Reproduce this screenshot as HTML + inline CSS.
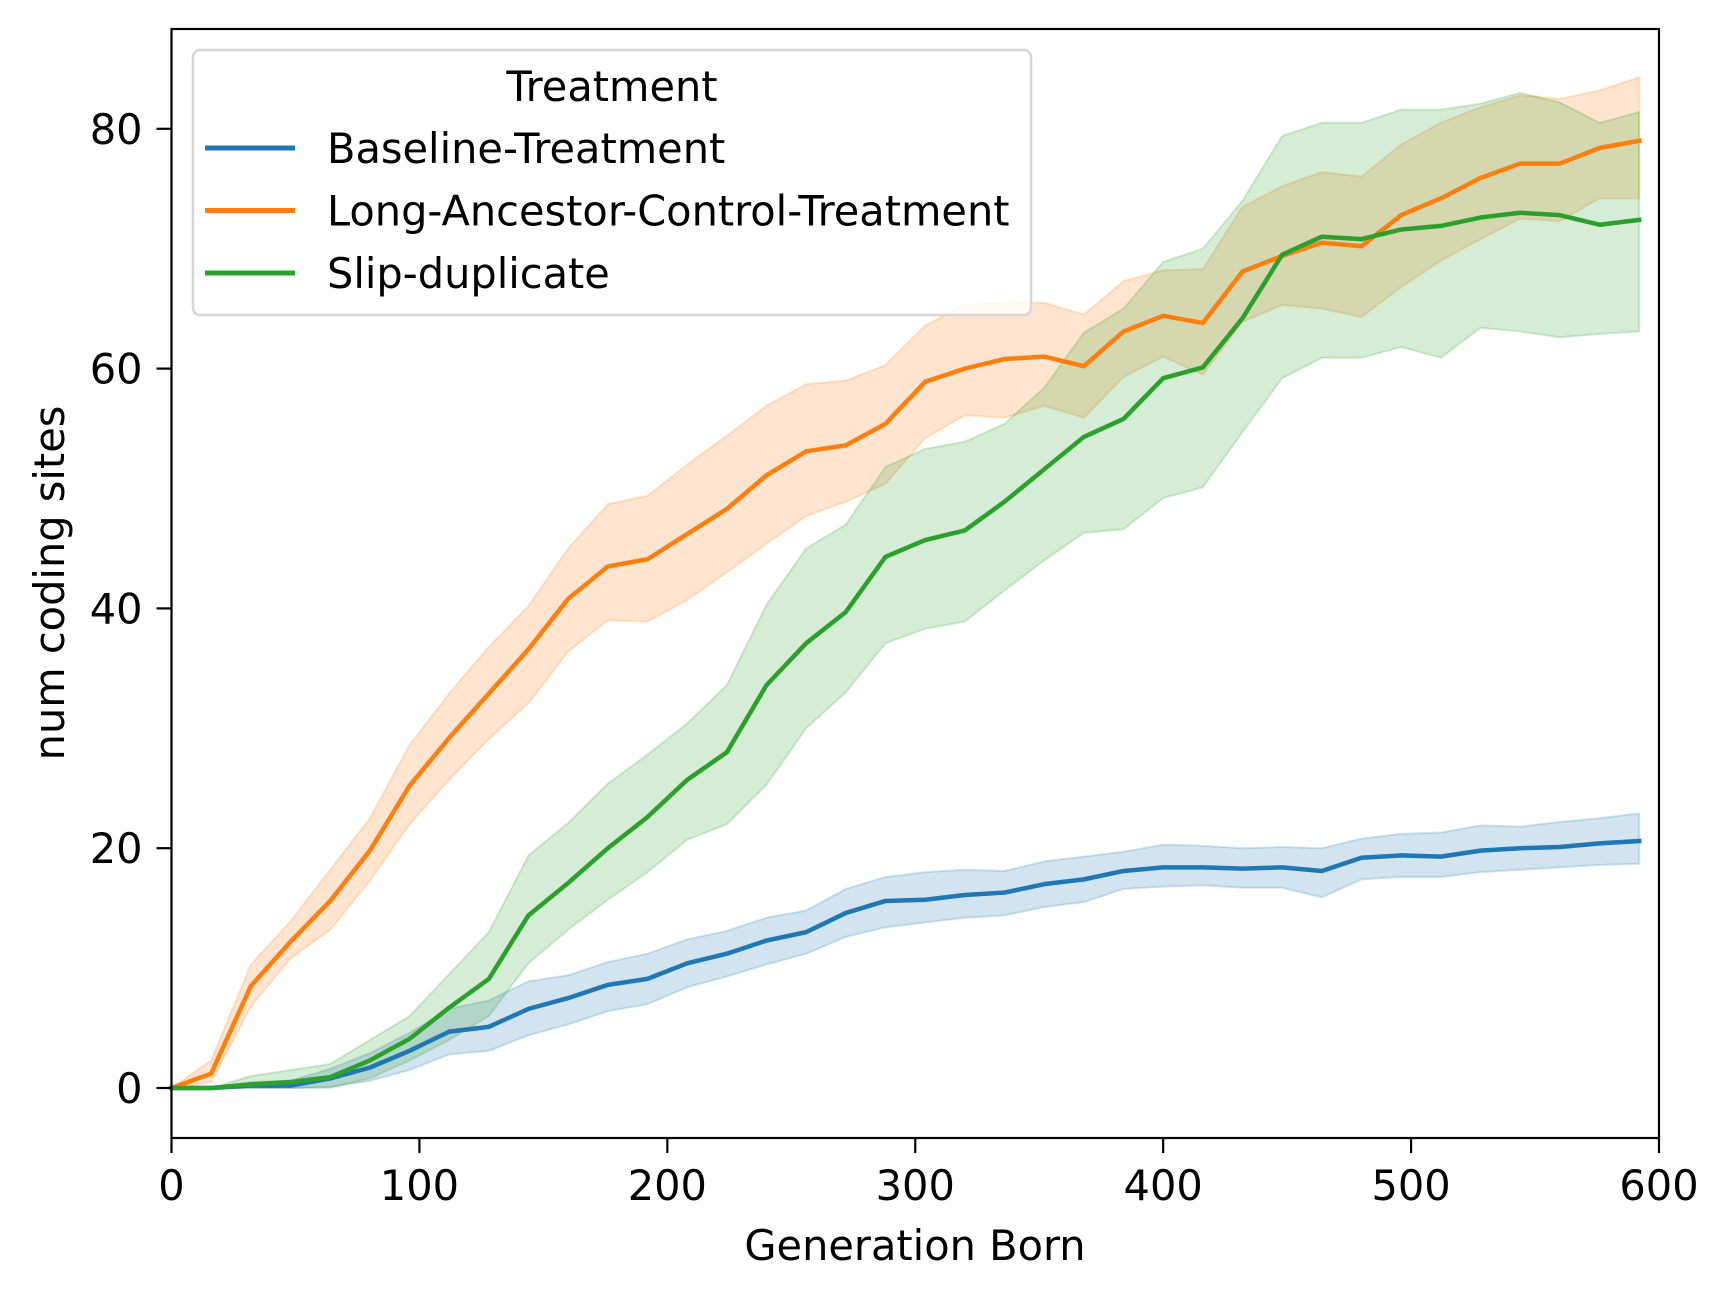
<!DOCTYPE html>
<html><head><meta charset="utf-8"><style>
body{margin:0;background:#fff}
svg{display:block;font-family:"DejaVu Sans","Liberation Sans",sans-serif}
</style></head><body>
<svg id="chart" width="1728" height="1298" viewBox="0 0 1728 1298">
<rect width="1728" height="1298" fill="#fff"/>
<g id="bands"></g><g id="lines"></g>
<g id="axes"></g>
</svg>
<script>
const gens = [0,16,32,48,64,80,96,112,128,144,160,176,192,208,224,240,256,272,288,304,320,336,352,368,384,400,416,432,448,464,480,496,512,528,544,560,576,592];
const orangeMean = [0,1.2,8.5,12.2,15.6,19.8,25.2,29.2,32.9,36.6,40.8,43.5,44.1,46.2,48.3,51.1,53.1,53.6,55.4,58.9,60.0,60.8,61.0,60.2,63.1,64.4,63.8,68.1,69.4,70.5,70.2,72.8,74.2,75.9,77.1,77.1,78.4,79.0];
const orangeLow = [0,0.5,6.8,10.8,13.2,17.3,22.0,25.7,29.1,32.1,36.4,39.0,38.9,40.7,43.0,45.4,47.7,48.9,50.4,54.2,56.1,55.9,56.9,55.9,59.3,61.0,59.5,63.9,65.3,65.0,64.3,66.8,69.0,70.8,72.5,72.3,74.2,74.2];
const orangeHigh = [0,2.3,10.3,13.9,18.2,22.5,28.6,32.9,36.8,40.2,45.0,48.7,49.4,52.0,54.4,56.9,58.7,59.0,60.3,63.6,65.3,65.5,65.5,64.5,67.3,68.2,68.3,73.5,75.2,76.4,76.0,78.7,80.5,81.8,82.8,82.5,83.2,84.3];
const greenMean = [0,0,0.3,0.5,0.9,2.3,4.1,6.7,9.1,14.4,17.1,20.0,22.6,25.7,28.0,33.6,37.1,39.7,44.3,45.7,46.5,48.9,51.6,54.3,55.8,59.2,60.1,64.2,69.5,71.0,70.8,71.6,71.9,72.6,73.0,72.8,72.0,72.4];
const greenLow = [0,0,0,0,0,0.8,2.3,4.0,6.0,10.4,13.2,15.7,18.0,20.7,22.0,25.3,30.0,33.0,37.1,38.3,38.9,41.5,44.0,46.3,46.6,49.2,50.1,54.7,59.2,60.9,60.9,61.8,60.9,63.4,63.1,62.6,62.9,63.1];
const greenHigh = [0,0,1.0,1.5,2.0,4.0,6.0,9.5,13.0,19.4,22.1,25.4,27.8,30.4,33.6,40.3,45.0,47.0,51.8,53.3,53.9,55.4,58.4,63.0,65.0,68.9,70.0,74.0,79.4,80.5,80.5,81.6,81.6,82.1,83.0,82.2,80.5,81.4];
const blueMean = [0,0,0.2,0.2,0.8,1.7,3.1,4.7,5.1,6.6,7.5,8.6,9.1,10.4,11.2,12.3,13.0,14.6,15.6,15.7,16.1,16.3,17.0,17.4,18.1,18.4,18.4,18.3,18.4,18.1,19.2,19.4,19.3,19.8,20.0,20.1,20.4,20.6];
const blueLow = [0,0,0,0,0.1,0.6,1.5,2.8,3.1,4.4,5.3,6.4,7.0,8.4,9.3,10.3,11.2,12.6,13.4,13.8,14.2,14.4,15.1,15.5,16.6,16.8,16.9,16.7,16.7,15.9,17.4,17.6,17.6,18.0,18.2,18.4,18.6,18.7];
const blueHigh = [0,0,0.5,0.6,1.6,2.9,4.6,6.6,7.3,8.9,9.4,10.5,11.2,12.4,13.1,14.2,14.8,16.6,17.6,18.0,18.2,18.1,18.9,19.3,19.7,20.3,20.2,20.0,20.1,20.0,20.8,21.2,21.3,21.9,21.8,22.2,22.5,22.9];
const xTicks = [0,100,200,300,400,500,600];
const yTicks = [0,20,40,60,80];
const legendLabels = ["Baseline-Treatment","Long-Ancestor-Control-Treatment","Slip-duplicate"];

const NS="http://www.w3.org/2000/svg";
const L=171.5,R=1659,T=29,B=1138,FS=41.5;
const xS=v=>L+(v/600)*(R-L);
const yS=v=>1088-v*11.99;
function mk(tag,attrs,parent){const e=document.createElementNS(NS,tag);for(const k in attrs)e.setAttribute(k,attrs[k]);parent.appendChild(e);return e;}
const bands=document.getElementById('bands'),lines=document.getElementById('lines'),axes=document.getElementById('axes');
const series=[
 {name:'baseline',color:'#1f77b4',m:blueMean,lo:blueLow,hi:blueHigh},
 {name:'long-ancestor',color:'#ff7f0e',m:orangeMean,lo:orangeLow,hi:orangeHigh},
 {name:'slip-duplicate',color:'#2ca02c',m:greenMean,lo:greenLow,hi:greenHigh}];
series.forEach(s=>{
 let d=gens.map((g,i)=>(i?'L':'M')+xS(g)+','+yS(s.hi[i])).join('');
 for(let i=gens.length-1;i>=0;i--)d+='L'+xS(gens[i])+','+yS(s.lo[i]);
 const b=mk('path',{d:d+'Z',fill:s.color,'fill-opacity':0.2,stroke:s.color,'stroke-opacity':0.2,'stroke-width':2},bands);
 
 
});
series.forEach(s=>{
 const d=gens.map((g,i)=>(i?'L':'M')+xS(g)+','+yS(s.m[i])).join('');
 const p=mk('path',{d:d,fill:'none',stroke:s.color,'stroke-width':4.5,'stroke-linejoin':'round','stroke-linecap':'square'},lines);
 
 
});
const fr=mk('rect',{x:L,y:T,width:R-L,height:B-T,fill:'none',stroke:'#000','stroke-width':2.2},axes);


xTicks.forEach(v=>{
 mk('line',{x1:xS(v),x2:xS(v),y1:B,y2:B+15,stroke:'#000','stroke-width':2.2},axes);
 const t=mk('text',{x:xS(v),y:B+62,'font-size':FS,'text-anchor':'middle',fill:'#000'},axes);
 t.textContent=v;
 
 
});
yTicks.forEach(v=>{
 mk('line',{x1:L-15,x2:L,y1:yS(v),y2:yS(v),stroke:'#000','stroke-width':2.2},axes);
 const t=mk('text',{x:L-29,y:yS(v)+15,'font-size':FS,'text-anchor':'end',fill:'#000'},axes);
 t.textContent=v;
 
 
});
const lg=mk('g',{},axes);


mk('rect',{x:193,y:50,width:838,height:265,rx:7,fill:'#fff','fill-opacity':0.8,stroke:'#d6d6d6','stroke-width':2.5},lg);
const lt=mk('text',{x:612,y:101,'font-size':FS,'text-anchor':'middle',fill:'#000'},lg);
lt.textContent='Treatment';


legendLabels.forEach((lab,i)=>{
 const y=148+i*62.5;
 mk('line',{x1:205,x2:295,y1:y,y2:y,stroke:series[i].color,'stroke-width':5},lg);
 const t=mk('text',{x:327,y:y+15,'font-size':FS,fill:'#000'},lg);
 t.textContent=lab;
 
 
});
const xl=mk('text',{x:915,y:1260,'font-size':FS,'text-anchor':'middle',fill:'#000'},axes);
xl.textContent='Generation Born';


const yl=mk('text',{x:0,y:0,'font-size':FS,'text-anchor':'middle',fill:'#000',transform:'translate(64,583) rotate(-90)'},axes);
yl.textContent='num coding sites';


</script>
</body></html>
